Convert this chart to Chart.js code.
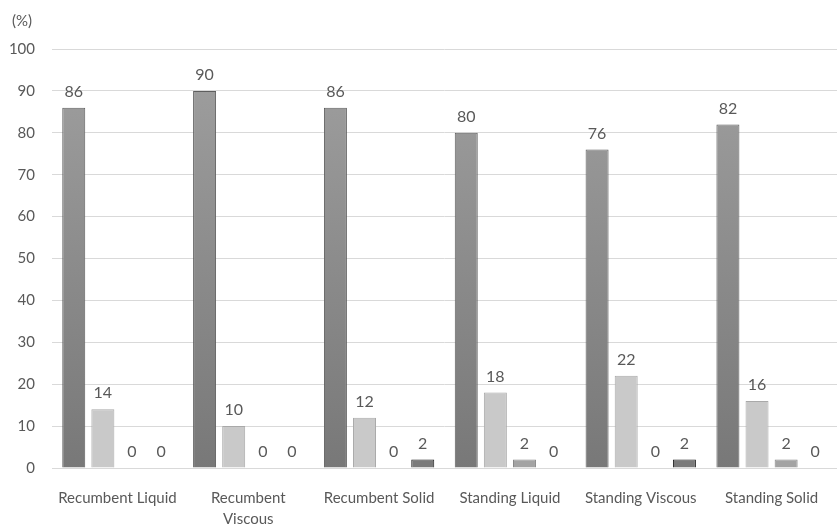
<!DOCTYPE html>
<html><head><meta charset="utf-8">
<script src="https://cdn.jsdelivr.net/npm/chart.js@4/dist/chart.umd.min.js"></script>
<style>html,body{margin:0;padding:0;background:#fff}#wrap{width:837px;height:531px}</style>
</head><body><div id="wrap"><canvas id="c"></canvas></div>
<script>
const categories = [["Recumbent Liquid"], ["Recumbent", "Viscous"], ["Recumbent Solid"], ["Standing Liquid"], ["Standing Viscous"], ["Standing Solid"]];
const series1 = [86, 90, 86, 80, 76, 82];
const series2 = [14, 10, 12, 18, 22, 16];
const series3 = [0, 0, 0, 2, 0, 2];
const series4 = [0, 0, 2, 0, 2, 0];
const yTicks = [0, 10, 20, 30, 40, 50, 60, 70, 80, 90, 100];

const FONT = "Lato, 'Open Sans', sans-serif";
function grad(ctx) {
  const c = ctx.chart; const a = c.chartArea;
  if (!a) return '#8a8a8a';
  const g = c.ctx.createLinearGradient(0, a.top, 0, a.bottom);
  g.addColorStop(0, '#a0a0a0'); g.addColorStop(1, '#787878');
  return g;
}
const labelPlugin = {
  id: 'vals',
  afterDatasetsDraw(chart) {
    const ctx = chart.ctx;
    ctx.save();
    ctx.font = "16px " + FONT;
    ctx.fillStyle = '#595959';
    ctx.textAlign = 'center';
    ctx.textBaseline = 'bottom';
    chart.data.datasets.forEach((ds, i) => {
      const meta = chart.getDatasetMeta(i);
      meta.data.forEach((bar, j) => {
        ctx.fillText(String(ds.data[j]), bar.x, bar.y - 8);
      });
    });
    ctx.font = "15px " + FONT;
    ctx.textAlign = 'left';
    ctx.fillText('(%)', 12, 29);
    ctx.restore();
  }
};
new Chart(document.getElementById('c'), {
  type: 'bar',
  data: {
    labels: categories,
    datasets: [
      { data: series1, backgroundColor: grad, borderColor: '#5e5e5e', borderWidth: 1 },
      { data: series2, backgroundColor: '#c9c9c9', borderColor: '#a9a9a9', borderWidth: 1 },
      { data: series3, backgroundColor: '#a3a3a3', borderColor: '#888888', borderWidth: 1 },
      { data: series4, backgroundColor: '#7a7a7a', borderColor: '#1a1a1a', borderWidth: 1 }
    ]
  },
  options: {
    responsive: true, maintainAspectRatio: false, animation: false,
    layout: { padding: { top: 49, right: 0, left: 0, bottom: 0 } },
    datasets: { bar: { categoryPercentage: 0.89, barPercentage: 0.79 } },
    plugins: { legend: { display: false }, tooltip: { enabled: false } },
    scales: {
      x: {
        grid: { display: false },
        border: { color: '#d9d9d9' },
        afterFit(ax) { ax.height = 63; },
        ticks: { color: '#595959', font: { family: FONT, size: 15, lineHeight: 1.45 }, maxRotation: 0, autoSkip: false, padding: 11 }
      },
      y: {
        min: 0, max: 100,
        afterBuildTicks(ax) { ax.ticks = yTicks.map(v => ({ value: v })); },
        afterFit(ax) { ax.width = 52; },
        grid: { color: '#d9d9d9', drawTicks: false },
        border: { display: false },
        ticks: { color: '#595959', font: { family: FONT, size: 15 }, padding: 17 }
      }
    }
  },
  plugins: [labelPlugin]
});
</script></body></html>
